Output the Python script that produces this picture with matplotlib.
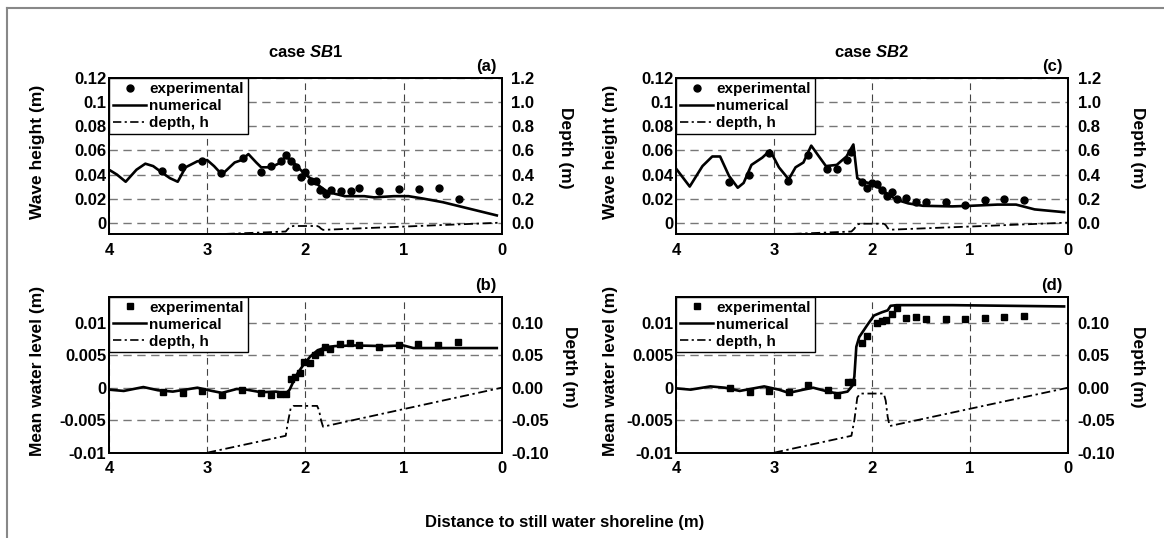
import matplotlib
matplotlib.use("Agg")
import matplotlib.pyplot as plt
from matplotlib.lines import Line2D

plt.rcParams["font.family"] = ["Liberation Sans", "DejaVu Sans"]
plt.rcParams["font.weight"] = "bold"
plt.rcParams["axes.labelweight"] = "bold"
plt.rcParams["mathtext.fontset"] = "custom"
plt.rcParams["mathtext.it"] = "Liberation Sans:italic:bold"
plt.rcParams["mathtext.rm"] = "Liberation Sans:bold"

# ---- case SB1: wave height ----
sb1_num_x = [4.0, 3.92, 3.83, 3.72, 3.63, 3.55, 3.45, 3.38, 3.3, 3.22, 3.1, 3.0, 2.93,
             2.85, 2.72, 2.65, 2.58, 2.5, 2.45, 2.35, 2.25, 2.2, 2.12, 2.05, 2.0, 1.92,
             1.85, 1.78, 1.7, 1.6, 1.4, 1.3, 1.1, 0.95, 0.8, 0.6, 0.4, 0.2, 0.05]
sb1_num_h = [0.044, 0.040, 0.034, 0.044, 0.049, 0.047, 0.041, 0.037, 0.034, 0.046, 0.051,
             0.052, 0.047, 0.040, 0.050, 0.052, 0.057, 0.050, 0.046, 0.046, 0.050, 0.055,
             0.050, 0.044, 0.040, 0.035, 0.030, 0.026, 0.024, 0.022, 0.022, 0.021, 0.022,
             0.022, 0.020, 0.017, 0.013, 0.009, 0.006]
sb1_exp_x = [3.46, 3.26, 3.05, 2.86, 2.64, 2.45, 2.35, 2.25, 2.20, 2.15, 2.10, 2.04, 2.0,
             1.94, 1.89, 1.85, 1.79, 1.74, 1.64, 1.54, 1.45, 1.25, 1.05, 0.84, 0.64, 0.44]
sb1_exp_h = [0.043, 0.046, 0.051, 0.041, 0.054, 0.042, 0.047, 0.051, 0.056, 0.051, 0.046,
             0.038, 0.042, 0.035, 0.035, 0.0275, 0.024, 0.027, 0.026, 0.026, 0.029, 0.026,
             0.028, 0.028, 0.0285, 0.020]

# ---- case SB2: wave height ----
sb2_num_x = [4.0, 3.86, 3.73, 3.63, 3.55, 3.46, 3.37, 3.31, 3.23, 3.12, 3.04, 2.95, 2.85,
             2.78, 2.70, 2.62, 2.55, 2.47, 2.36, 2.26, 2.19, 2.15, 2.09, 1.98, 1.86, 1.75,
             1.63, 1.48, 1.18, 0.99, 0.72, 0.53, 0.34, 0.04]
sb2_num_h = [0.045, 0.030, 0.047, 0.055, 0.055, 0.039, 0.029, 0.033, 0.048, 0.054, 0.060,
             0.046, 0.036, 0.046, 0.050, 0.064, 0.056, 0.047, 0.048, 0.055, 0.065, 0.037,
             0.034, 0.032, 0.025, 0.019, 0.016, 0.014, 0.0135, 0.014, 0.015, 0.015, 0.011,
             0.0087]
sb2_exp_x = [3.46, 3.26, 3.05, 2.86, 2.65, 2.46, 2.36, 2.26, 2.21, 2.10, 2.05, 2.0, 1.95,
             1.90, 1.85, 1.80, 1.75, 1.65, 1.55, 1.45, 1.25, 1.05, 0.85, 0.65, 0.45]
sb2_exp_h = [0.034, 0.040, 0.058, 0.035, 0.056, 0.045, 0.045, 0.052, 0.059, 0.034, 0.029,
             0.033, 0.032, 0.027, 0.022, 0.0255, 0.0196, 0.0207, 0.017, 0.017, 0.017, 0.015,
             0.0188, 0.0196, 0.0188]

# ---- case SB1: mean water level ----
sb1_mwl_num_x = [4.0, 3.85, 3.65, 3.5, 3.35, 3.1, 2.95, 2.85, 2.7, 2.6, 2.45, 2.3, 2.2,
                 2.16, 2.12, 2.08, 2.02, 1.95, 1.88, 1.8, 1.7, 1.5, 1.2, 1.0, 0.9, 0.5, 0.05]
sb1_mwl_num = [-0.0003, -0.0005, 0.0001, -0.0004, -0.0006, 0.0, -0.0005, -0.0008, -0.0002,
               -0.0003, -0.0007, -0.0006, -0.0009, -0.0003, 0.001, 0.0022, 0.0035, 0.0048,
               0.0057, 0.0062, 0.0064, 0.0065, 0.0064, 0.0065, 0.0061, 0.0061, 0.0061]
sb1_mwl_exp_x = [3.45, 3.25, 3.05, 2.85, 2.65, 2.45, 2.35, 2.26, 2.20, 2.15, 2.11, 2.05,
                 2.01, 1.95, 1.90, 1.85, 1.80, 1.75, 1.65, 1.55, 1.45, 1.25, 1.05, 0.85,
                 0.65, 0.45]
sb1_mwl_exp = [-0.0006, -0.0008, -0.0005, -0.0011, -0.0004, -0.0008, -0.0011, -0.0009,
               -0.001, 0.0013, 0.0016, 0.0022, 0.004, 0.0038, 0.0051, 0.0055, 0.0063, 0.006,
               0.0067, 0.0069, 0.0066, 0.0063, 0.0066, 0.0068, 0.0066, 0.0071]

# ---- case SB2: mean water level ----
sb2_mwl_num_x = [4.0, 3.85, 3.65, 3.5, 3.35, 3.1, 2.95, 2.85, 2.7, 2.6, 2.45, 2.35, 2.25,
                 2.2, 2.18, 2.16, 2.13, 2.05, 1.98, 1.9, 1.84, 1.81, 1.75, 1.18, 0.04]
sb2_mwl_num = [-0.0001, -0.0003, 0.0002, 0.0, -0.0005, 0.0002, -0.0003, -0.0008, -0.0003,
               0.0, -0.0006, -0.0009, -0.0006, 0.0003, 0.0017, 0.0063, 0.0078, 0.0096,
               0.0111, 0.0116, 0.0119, 0.0126, 0.0127, 0.0127, 0.0125]
sb2_mwl_exp_x = [3.45, 3.25, 3.05, 2.85, 2.65, 2.45, 2.36, 2.25, 2.20, 2.10, 2.05, 1.95,
                 1.90, 1.86, 1.80, 1.75, 1.65, 1.55, 1.45, 1.25, 1.05, 0.85, 0.65, 0.45]
sb2_mwl_exp = [0.0, -0.0006, -0.0005, -0.0007, 0.0004, -0.0003, -0.0011, 0.0009, 0.0009,
               0.0069, 0.0080, 0.0099, 0.0103, 0.0104, 0.0113, 0.0122, 0.0107, 0.0109,
               0.0105, 0.0106, 0.0106, 0.0108, 0.0109, 0.011]

# ---- bottom profiles (depth, m) ----
sb1_depth_x = [3.0, 2.2, 2.18, 2.15, 2.12, 1.88, 1.86, 1.84, 1.82, 0.0]
sb1_depth = [-0.100, -0.074, -0.055, -0.032, -0.028, -0.028, -0.035, -0.050, -0.060, 0.0]
sb2_depth_x = [3.0, 2.21, 2.18, 2.15, 2.12, 1.88, 1.86, 1.84, 1.82, 0.0]
sb2_depth = [-0.100, -0.074, -0.050, -0.015, -0.009, -0.009, -0.020, -0.045, -0.059, 0.0]

W, H = 1164, 538
DEPTH_DASH = (0, (5, 2, 1.3, 2))
HGRID_KW = dict(color="#777777", ls=(0, (6, 4)), lw=1.0)
VGRID_KW = dict(color="#444444", ls=(0, (6, 4)), lw=0.8)
TICK_FS = 12
LABEL_FS = 12.5


def px(x, y):
    """pixel position (top-left origin) -> figure fraction"""
    return x / W, 1 - y / H


def setup(ax, ylim, yticks, ylabels, rticks, rlabels, tag):
    ax.set_xlim(4, 0)
    ax.set_ylim(*ylim)
    ax.set_xticks([4, 3, 2, 1, 0])
    ax.set_xticklabels(["4", "3", "2", "1", "0"])
    ax.set_yticks(yticks)
    ax.set_yticklabels(ylabels)
    ax.tick_params(axis="x", length=0, labelsize=TICK_FS, pad=6)
    ax.tick_params(axis="y", length=0, labelsize=TICK_FS, pad=2)
    for t in ax.get_xticklabels() + ax.get_yticklabels():
        t.set_fontweight("bold")
    ax.yaxis.grid(True, **HGRID_KW)
    ax.xaxis.grid(True, **VGRID_KW)
    ax.set_axisbelow(True)
    ax.text(0.987, 1.025, tag, transform=ax.transAxes, ha="right", va="bottom",
            fontsize=12)
    for s in ax.spines.values():
        s.set_linewidth(1.3)

    ax2 = ax.twinx()
    ax2.set_ylim(ylim[0] * 10, ylim[1] * 10)
    ax2.set_yticks(rticks)
    ax2.set_yticklabels(rlabels)
    ax2.tick_params(length=0, labelsize=TICK_FS, pad=7)
    for t in ax2.get_yticklabels():
        t.set_fontweight("bold")
    for s in ax2.spines.values():
        s.set_linewidth(1.3)
    return ax2


def legend(ax2, marker):
    handles = [
        Line2D([], [], ls="none", marker=marker, color="black", ms=5),
        Line2D([], [], color="black", lw=1.8),
        Line2D([], [], color="black", lw=1.2, ls=DEPTH_DASH),
    ]
    leg = ax2.legend(handles, ["experimental", "numerical", "depth, h"], loc="upper left",
                     borderaxespad=0, fancybox=False, framealpha=1, edgecolor="black",
                     fontsize=11, handlelength=2.2, handletextpad=0.2, labelspacing=0.2,
                     borderpad=0.25)
    leg.get_frame().set_linewidth(1.0)
    for t in leg.get_texts():
        t.set_fontweight("bold")


fig = plt.figure(figsize=(W / 100, H / 100), dpi=100)

H_LIM = (-0.0097, 0.12)
H_TICKS = [0, 0.02, 0.04, 0.06, 0.08, 0.1, 0.12]
H_LABELS = ["0", "0.02", "0.04", "0.06", "0.08", "0.1", "0.12"]
HR_TICKS = [0, 0.2, 0.4, 0.6, 0.8, 1.0, 1.2]
HR_LABELS = ["0.0", "0.2", "0.4", "0.6", "0.8", "1.0", "1.2"]
M_LIM = (-0.01, 0.014)
M_TICKS = [-0.01, -0.005, 0, 0.005, 0.01]
M_LABELS = ["-0.01", "-0.005", "0", "0.005", "0.01"]
MR_TICKS = [-0.10, -0.05, 0.0, 0.05, 0.10]
MR_LABELS = ["-0.10", "-0.05", "0.00", "0.05", "0.10"]

# pixel boxes: left, top, right, bottom
panels = [
    ((109, 78.3, 501.7, 234.3), "SB1", "h", "(a)", 38, 566),
    ((109, 296.7, 501.7, 452.7), "SB1", "m", "(b)", 38, 570),
    ((676, 78.3, 1068, 234.3), "SB2", "h", "(c)", 611, 1137),
    ((676, 296.7, 1068, 452.7), "SB2", "m", "(d)", 611, 1137),
]

for (l, t, r, b), case, kind, tag, ylab_x, rlab_x in panels:
    ax = fig.add_axes([l / W, 1 - b / H, (r - l) / W, (b - t) / H])
    if case == "SB1":
        dx, dh = sb1_depth_x, sb1_depth
    else:
        dx, dh = sb2_depth_x, sb2_depth
    if kind == "h":
        ax2 = setup(ax, H_LIM, H_TICKS, H_LABELS, HR_TICKS, HR_LABELS, tag)
        if case == "SB1":
            nx, ny, ex, ey = sb1_num_x, sb1_num_h, sb1_exp_x, sb1_exp_h
        else:
            nx, ny, ex, ey = sb2_num_x, sb2_num_h, sb2_exp_x, sb2_exp_h
        marker = "o"
        ylabel = "Wave height (m)"
        fig.text(*px((l + r) / 2, 52), r"case $\mathit{%s}$" % case, ha="center",
                 va="center", fontsize=12, fontweight="bold")
    else:
        ax2 = setup(ax, M_LIM, M_TICKS, M_LABELS, MR_TICKS, MR_LABELS, tag)
        if case == "SB1":
            nx, ny, ex, ey = sb1_mwl_num_x, sb1_mwl_num, sb1_mwl_exp_x, sb1_mwl_exp
        else:
            nx, ny, ex, ey = sb2_mwl_num_x, sb2_mwl_num, sb2_mwl_exp_x, sb2_mwl_exp
        marker = "s"
        ylabel = "Mean water level (m)"
    ax.plot(nx, ny, color="black", lw=1.9, zorder=3)
    ax.plot(ex, ey, ls="none", marker=marker, color="black", ms=5, zorder=4)
    ax2.plot(dx, dh, color="black", lw=1.3, ls=DEPTH_DASH)
    legend(ax2, marker)

    mid = (t + b) / 2
    fig.text(*px(ylab_x, mid - 4), ylabel, rotation=90, ha="center", va="center",
             fontsize=LABEL_FS, fontweight="bold")
    fig.text(*px(rlab_x, mid - 8), "Depth (m)", rotation=270, ha="center", va="center",
             fontsize=LABEL_FS, fontweight="bold")

fig.text(*px(565, 523), "Distance to still water shoreline (m)", ha="center", va="center",
         fontsize=12, fontweight="bold")

# outer frame (top and left edges visible)
fig.add_artist(Line2D([6.7 / W, 1.0], [1 - 8.3 / H, 1 - 8.3 / H], transform=fig.transFigure,
                      color="#888888", lw=1.5))
fig.add_artist(Line2D([6.7 / W, 6.7 / W], [0.0, 1 - 8.3 / H], transform=fig.transFigure,
                      color="#888888", lw=1.5))

fig.savefig("out.png", dpi=100)
